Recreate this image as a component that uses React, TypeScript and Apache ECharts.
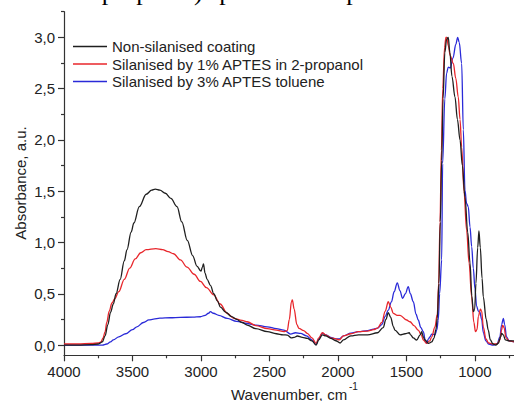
import React, { useEffect, useRef } from "react";
import * as echarts from "echarts";

// Wavenumber (cm-1), absorbance (a.u.)
const nonSilanised: [number, number][] = [
  [4000, 0.0], [3900, 0.0], [3800, 0.005], [3750, 0.01], [3720, 0.03], [3700, 0.09], [3680, 0.2],
  [3660, 0.32], [3640, 0.4], [3620, 0.5], [3590, 0.64], [3560, 0.82], [3540, 0.93], [3510, 1.1],
  [3490, 1.19], [3450, 1.35], [3400, 1.47], [3360, 1.51], [3334, 1.52], [3300, 1.51], [3260, 1.48],
  [3220, 1.43], [3175, 1.35], [3140, 1.2], [3100, 1.02], [3060, 0.87], [3030, 0.77], [3000, 0.72],
  [2990, 0.76], [2982, 0.79], [2970, 0.7], [2955, 0.64], [2930, 0.58], [2907, 0.5], [2880, 0.43],
  [2858, 0.37], [2820, 0.32], [2780, 0.28], [2740, 0.25], [2700, 0.22], [2663, 0.195], [2600, 0.16],
  [2516, 0.13], [2450, 0.11], [2400, 0.1], [2370, 0.097], [2340, 0.07], [2320, 0.075], [2297, 0.088],
  [2260, 0.075], [2224, 0.065], [2190, 0.04], [2160, 0.0], [2140, 0.05], [2114, 0.1], [2090, 0.09],
  [2053, 0.065], [2016, 0.042], [1984, 0.02], [1960, 0.05], [1906, 0.09], [1850, 0.1], [1784, 0.1],
  [1711, 0.12], [1670, 0.17], [1650, 0.25], [1633, 0.315], [1615, 0.27], [1596, 0.18], [1584, 0.146],
  [1547, 0.1], [1510, 0.11], [1480, 0.12], [1470, 0.1], [1450, 0.07], [1426, 0.049], [1400, 0.1],
  [1389, 0.13], [1377, 0.08], [1365, 0.049], [1340, 0.016], [1316, 0.03], [1300, 0.065], [1285, 0.15],
  [1275, 0.26], [1263, 0.6], [1253, 1.2], [1243, 1.8], [1233, 2.4], [1220, 2.85], [1207, 2.98],
  [1195, 3.0], [1183, 2.85], [1168, 2.62], [1146, 2.42], [1128, 2.2], [1109, 2.0], [1092, 1.75],
  [1073, 1.445], [1053, 1.1], [1036, 0.8], [1023, 0.48], [1012, 0.325], [1002, 0.35], [993, 0.6],
  [980, 0.95], [971, 1.114], [961, 0.95], [948, 0.65], [939, 0.47], [918, 0.25], [903, 0.146],
  [888, 0.05], [868, 0.01], [848, 0.0], [828, 0.02], [813, 0.08], [805, 0.114], [793, 0.1],
  [778, 0.05], [750, 0.04], [715, 0.04],
];

const aptes1Propanol: [number, number][] = [
  [4000, 0.01], [3900, 0.01], [3800, 0.015], [3750, 0.02], [3730, 0.03], [3715, 0.07], [3700, 0.13],
  [3688, 0.22], [3670, 0.33], [3650, 0.41], [3630, 0.45], [3600, 0.52], [3560, 0.64], [3520, 0.75],
  [3480, 0.84], [3440, 0.9], [3400, 0.93], [3330, 0.94], [3280, 0.93], [3240, 0.91], [3200, 0.89],
  [3150, 0.83], [3102, 0.76], [3050, 0.69], [3004, 0.62], [2960, 0.56], [2907, 0.49], [2860, 0.4],
  [2809, 0.31], [2760, 0.26], [2700, 0.24], [2663, 0.227], [2600, 0.19], [2516, 0.16], [2450, 0.145],
  [2395, 0.13], [2370, 0.14], [2355, 0.25], [2340, 0.42], [2333, 0.44], [2320, 0.35], [2300, 0.2],
  [2285, 0.163], [2250, 0.14], [2224, 0.114], [2190, 0.07], [2160, 0.016], [2140, 0.07], [2114, 0.12],
  [2090, 0.1], [2053, 0.07], [2016, 0.06], [1990, 0.05], [1960, 0.09], [1906, 0.11], [1850, 0.13],
  [1784, 0.136], [1740, 0.15], [1711, 0.165], [1680, 0.22], [1655, 0.33], [1633, 0.422], [1615, 0.37],
  [1596, 0.309], [1570, 0.29], [1547, 0.29], [1499, 0.244], [1474, 0.227], [1445, 0.19], [1414, 0.146],
  [1392, 0.1], [1377, 0.049], [1353, 0.016], [1330, 0.04], [1316, 0.08], [1292, 0.178], [1275, 0.3],
  [1265, 0.6], [1255, 1.2], [1245, 1.9], [1235, 2.5], [1222, 2.9], [1212, 3.0], [1205, 3.0],
  [1195, 2.92], [1180, 2.82], [1158, 2.745], [1140, 2.6], [1122, 2.42], [1109, 2.2], [1097, 1.93],
  [1080, 1.5], [1061, 1.12], [1043, 0.8], [1024, 0.47], [1008, 0.22], [996, 0.13], [985, 0.15],
  [975, 0.28], [960, 0.35], [951, 0.33], [939, 0.178], [920, 0.06], [900, 0.02], [868, 0.01],
  [838, 0.01], [818, 0.05], [805, 0.15], [798, 0.195], [788, 0.17], [773, 0.07], [750, 0.04],
  [715, 0.03],
];

const aptes3Toluene: [number, number][] = [
  [4000, 0.0], [3800, 0.0], [3720, 0.0], [3688, 0.01], [3660, 0.03], [3640, 0.05], [3600, 0.08],
  [3550, 0.11], [3500, 0.15], [3468, 0.178], [3420, 0.22], [3380, 0.245], [3346, 0.253], [3300, 0.262],
  [3224, 0.266], [3150, 0.27], [3060, 0.272], [3004, 0.276], [2970, 0.29], [2945, 0.31], [2931, 0.325],
  [2910, 0.31], [2870, 0.29], [2809, 0.26], [2740, 0.23], [2663, 0.21], [2600, 0.195], [2516, 0.178],
  [2450, 0.16], [2395, 0.146], [2346, 0.107], [2310, 0.12], [2273, 0.114], [2230, 0.09], [2190, 0.05],
  [2160, 0.005], [2140, 0.06], [2114, 0.115], [2090, 0.1], [2053, 0.075], [2016, 0.06], [1990, 0.06],
  [1960, 0.09], [1906, 0.115], [1850, 0.13], [1784, 0.14], [1740, 0.155], [1711, 0.165], [1680, 0.2],
  [1655, 0.28], [1633, 0.34], [1610, 0.42], [1590, 0.52], [1567, 0.607], [1548, 0.53], [1528, 0.455],
  [1508, 0.5], [1487, 0.57], [1472, 0.5], [1450, 0.422], [1430, 0.3], [1414, 0.244], [1395, 0.17],
  [1377, 0.13], [1363, 0.05], [1353, 0.016], [1340, 0.06], [1328, 0.08], [1316, 0.107], [1292, 0.1],
  [1278, 0.15], [1268, 0.244], [1258, 0.5], [1243, 0.83], [1236, 1.77], [1220, 2.4], [1207, 2.65],
  [1195, 2.71], [1180, 2.7], [1160, 2.8], [1140, 2.93], [1126, 3.0], [1115, 2.95], [1097, 2.745],
  [1085, 2.1], [1073, 1.51], [1061, 1.38], [1049, 1.35], [1036, 1.15], [1024, 0.96], [1012, 0.75],
  [1000, 0.55], [988, 0.38], [975, 0.33], [964, 0.32], [951, 0.25], [939, 0.12], [920, 0.04],
  [900, 0.01], [868, 0.0], [838, 0.01], [818, 0.08], [805, 0.2], [793, 0.26], [783, 0.2],
  [770, 0.08], [750, 0.04], [715, 0.03],
];

const seriesNames = [
  "Non-silanised coating",
  "Silanised by 1% APTES in 2-propanol",
  "Silanised by 3% APTES toluene",
];
const seriesColors = ["#1f1f1f", "#e8262b", "#2a2ad8"];

const xMajorTicks = [4000, 3500, 3000, 2500, 2000, 1500, 1000];
const xMinorTicks = [3750, 3250, 2750, 2250, 1750, 1250, 750];
const yMajorTicks = [0, 0.5, 1.0, 1.5, 2.0, 2.5, 3.0];
const yMinorTicks = [0.25, 0.75, 1.25, 1.75, 2.25, 2.75, 3.25];

const FONT = '"Liberation Sans", Arial, sans-serif';

export default function App() {
  const ref = useRef<HTMLDivElement>(null);
  useEffect(() => {
    if (!ref.current) return;
    const chart = echarts.init(ref.current, undefined, { renderer: "svg" });
    const axisColor = "#333";
    const xCommon = {
      type: "value",
      inverse: true,
      min: 715,
      max: 4000,
      splitLine: { show: false },
      gridIndex: 0,
    };
    const yCommon = {
      type: "value",
      min: -0.1,
      max: 3.25,
      splitLine: { show: false },
      gridIndex: 0,
    };
    const data = [nonSilanised, aptes1Propanol, aptes3Toluene];
    chart.setOption({
      animation: false,
      backgroundColor: "#fff",
      grid: { left: 64, right: 0, top: 11.7, bottom: 45.7, containLabel: false },
      legend: {
        orient: "vertical",
        left: 73,
        top: 39,
        padding: 0,
        itemWidth: 34,
        itemHeight: 1.5,
        itemGap: 2.5,
        icon: "rect",
        data: seriesNames,
        textStyle: { fontSize: 15, fontFamily: FONT, color: "#222", lineHeight: 15 },
      },
      xAxis: [
        {
          ...xCommon,
          axisLine: { show: true, onZero: false, lineStyle: { color: axisColor, width: 1.2 } },
          axisTick: { show: true, customValues: xMajorTicks, length: 6, lineStyle: { color: axisColor, width: 1.2 } },
          axisLabel: {
            show: true,
            customValues: xMajorTicks,
            margin: 9,
            fontSize: 15,
            fontFamily: FONT,
            color: "#222",
            formatter: (v: number) => String(v),
          },
        },
        {
          ...xCommon,
          position: "bottom",
          axisLine: { show: false, onZero: false },
          axisTick: { show: true, customValues: xMinorTicks, length: 3, lineStyle: { color: axisColor, width: 1.2 } },
          axisLabel: { show: false },
        },
      ],
      yAxis: [
        {
          ...yCommon,
          axisLine: { show: true, onZero: false, lineStyle: { color: axisColor, width: 1.2 } },
          axisTick: { show: true, customValues: yMajorTicks, length: 6, lineStyle: { color: axisColor, width: 1.2 } },
          axisLabel: {
            show: true,
            customValues: yMajorTicks,
            margin: 9,
            fontSize: 15,
            fontFamily: FONT,
            color: "#222",
            formatter: (v: number) => v.toFixed(1).replace(".", ","),
          },
        },
        {
          ...yCommon,
          position: "left",
          axisLine: { show: false, onZero: false },
          axisTick: { show: true, customValues: yMinorTicks, length: 3, lineStyle: { color: axisColor, width: 1.2 } },
          axisLabel: { show: false },
        },
      ],
      series: seriesNames.map((name, i) => ({
        name,
        type: "line",
        xAxisIndex: 0,
        yAxisIndex: 0,
        data: data[i],
        symbol: "none",
        smooth: 0.35,
        smoothMonotone: "x",
        z: 3 - i,
        lineStyle: { color: seriesColors[i], width: 1.3 },
        itemStyle: { color: seriesColors[i] },
      })),
      graphic: [
        {
          type: "text",
          x: 80,
          y: -9,
          silent: true,
          style: {
            text: "2-propanol) spectra were presented.",
            fontSize: 26,
            fontFamily: '"Liberation Serif", "Times New Roman", serif',
            fill: "#000",
            align: "left",
            verticalAlign: "middle",
          },
        },
        {
          type: "text",
          x: 20,
          y: 183,
          rotation: Math.PI / 2,
          silent: true,
          style: {
            text: "Absorbance, a.u.",
            fontSize: 15,
            fontFamily: FONT,
            fill: "#222",
            align: "center",
            verticalAlign: "middle",
          },
        },
        {
          type: "text",
          x: 231,
          y: 394,
          silent: true,
          style: {
            text: "Wavenumber, cm",
            fontSize: 15,
            fontFamily: FONT,
            fill: "#222",
            align: "left",
            verticalAlign: "middle",
          },
        },
        {
          type: "text",
          x: 349,
          y: 386,
          silent: true,
          style: {
            text: "-1",
            fontSize: 10,
            fontFamily: FONT,
            fill: "#222",
            align: "left",
            verticalAlign: "middle",
          },
        },
      ],
    });
    return () => chart.dispose();
  }, []);
  return <div ref={ref} style={{ width: 514, height: 401, position: "absolute", left: 0, top: 0 }} />;
}
